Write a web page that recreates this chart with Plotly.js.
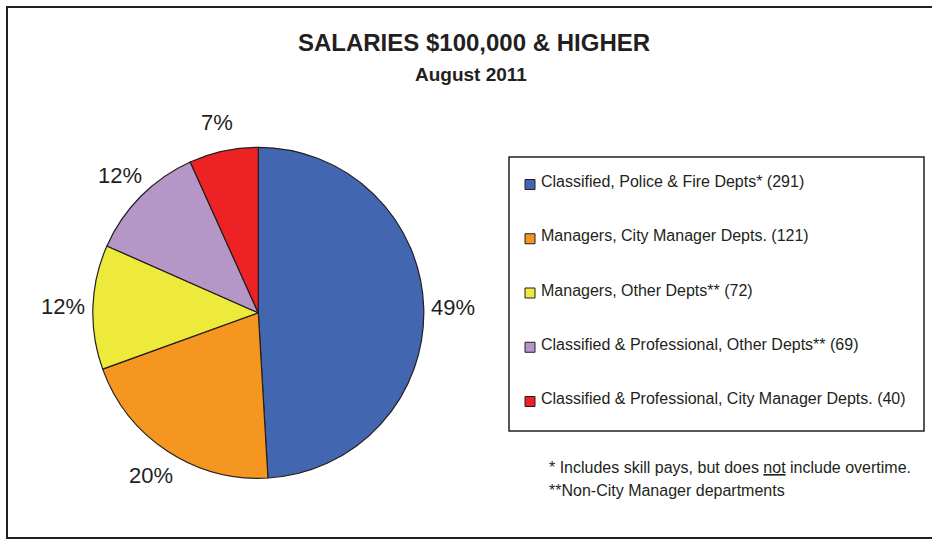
<!DOCTYPE html>
<html>
<head>
<meta charset="utf-8">
<script src="https://cdn.plot.ly/plotly-3.0.1.min.js"></script>
<style>html,body{margin:0;padding:0;background:#fff;}#chart{width:932px;height:540px;}</style>
</head>
<body>
<div id="chart"></div>
<script>
// ---- data ----
var categories = [
  "Classified, Police & Fire Depts*",
  "Managers, City Manager Depts.",
  "Managers, Other Depts**",
  "Classified & Professional, Other Depts**",
  "Classified & Professional, City Manager Depts."
];
var counts = [291, 121, 72, 69, 40];
var colors = ["#4366B0", "#F4961F", "#EEEA3C", "#B596C6", "#EE2225"];
var titleText = "SALARIES $100,000 & HIGHER";
var subtitleText = "August 2011";
var footnotes = [
  "* Includes skill pays, but does <u>not</u> include overtime.",
  "**Non-City Manager departments"
];

// ---- layout helpers (pixel -> paper) ----
var W = 932, H = 540;
function px(x){ return x / W; }
function py(y){ return 1 - y / H; }
var FONT = "Liberation Sans, Arial, Helvetica, sans-serif";
var INK = "#231f20";

var cx = 258.3, cy = 312.8, r = 165.5, labelR = 195;

var trace = {
  type: "pie",
  values: counts,
  labels: categories,
  sort: false,
  direction: "clockwise",
  rotation: 0,
  marker: { colors: colors, line: { color: INK, width: 1.2 } },
  textinfo: "none",
  hoverinfo: "label+value+percent",
  domain: { x: [px(cx - r), px(cx + r)], y: [py(cy + r), py(cy - r)] },
  automargin: false
};

var shapes = [];
var annotations = [];

// percentage labels, placed at each slice's mid-angle (derived from the data)
var total = counts.reduce(function(a, b){ return a + b; }, 0);
var cum = 0;
counts.forEach(function(v){
  var mid = (cum + v / 2) / total * 2 * Math.PI;
  cum += v;
  var lx = cx + labelR * Math.sin(mid);
  var ly = cy - labelR * Math.cos(mid);
  annotations.push({ xref: "paper", yref: "paper", x: px(lx), y: py(ly),
    xanchor: "center", yanchor: "middle", showarrow: false,
    text: Math.round(v / total * 100) + "%",
    font: { family: FONT, size: 22, color: INK } });
});

// outer frame
shapes.push({ type: "rect", xref: "paper", yref: "paper",
  x0: px(7), x1: px(940), y0: py(538), y1: py(7),
  line: { color: INK, width: 2 }, fillcolor: "rgba(0,0,0,0)" });

// legend box
shapes.push({ type: "rect", xref: "paper", yref: "paper",
  x0: px(509), x1: px(924), y0: py(431), y1: py(157),
  line: { color: INK, width: 1.5 }, fillcolor: "rgba(0,0,0,0)" });

var firstY = 184.5, stepY = 54.25;
categories.forEach(function(c, i){
  var yc = firstY + i * stepY;
  shapes.push({ type: "rect", xref: "paper", yref: "paper",
    x0: px(525), x1: px(535), y0: py(yc + 5), y1: py(yc - 5),
    fillcolor: colors[i], line: { color: INK, width: 1 } });
  annotations.push({ xref: "paper", yref: "paper", x: px(539), y: py(yc - 3),
    xanchor: "left", yanchor: "middle", showarrow: false,
    text: c + " (" + counts[i] + ")",
    font: { family: FONT, size: 16, color: INK } });
});

// subtitle
annotations.push({ xref: "paper", yref: "paper", x: px(471), y: py(74),
  xanchor: "center", yanchor: "middle", showarrow: false,
  text: "<b>" + subtitleText + "</b>",
  font: { family: FONT, size: 19, color: INK } });

// footnotes
annotations.push({ xref: "paper", yref: "paper", x: px(547), y: py(467.5),
  xanchor: "left", yanchor: "middle", showarrow: false,
  text: footnotes[0], font: { family: FONT, size: 16, color: INK } });
annotations.push({ xref: "paper", yref: "paper", x: px(547), y: py(490),
  xanchor: "left", yanchor: "middle", showarrow: false,
  text: footnotes[1], font: { family: FONT, size: 16, color: INK } });

var layout = {
  width: W, height: H,
  margin: { l: 0, r: 0, t: 0, b: 0 },
  paper_bgcolor: "#ffffff",
  plot_bgcolor: "#ffffff",
  showlegend: false,
  title: { text: "<b>" + titleText + "</b>", x: px(474), y: py(43),
    xanchor: "center", yanchor: "middle", xref: "paper", yref: "paper",
    font: { family: FONT, size: 24, color: INK } },
  shapes: shapes,
  annotations: annotations
};

Plotly.newPlot("chart", [trace], layout, { displayModeBar: false, staticPlot: true });
</script>
</body>
</html>
